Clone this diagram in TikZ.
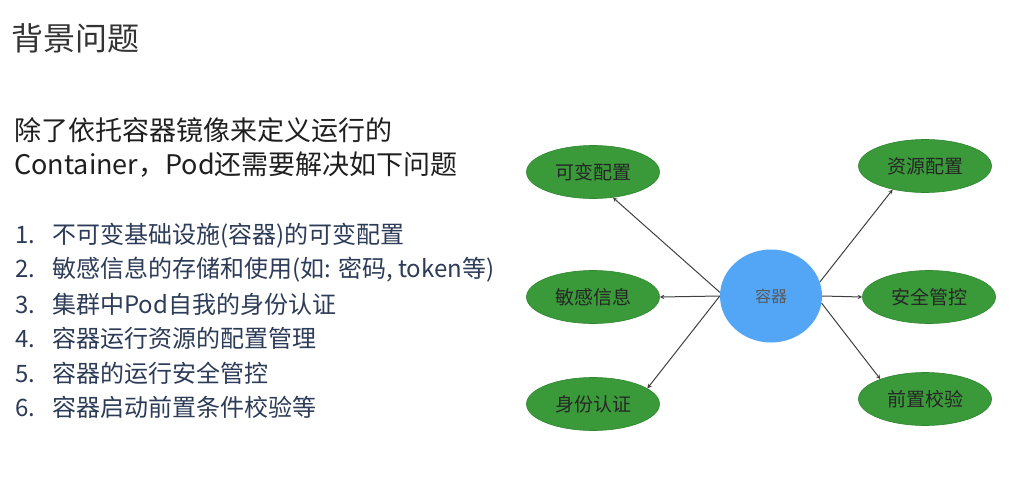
\documentclass[tikz,border=0pt]{standalone}
\usepackage{fontspec}
\setmainfont{Noto Sans CJK SC}
\usepackage{xcolor}
\usetikzlibrary{shapes.geometric}
\definecolor{titlegray}{HTML}{333333}
\definecolor{listblue}{HTML}{2C3B57}
\definecolor{leafgreen}{HTML}{3A9A3A}
\definecolor{leafedge}{HTML}{2F852F}
\definecolor{coreblue}{HTML}{53A6F6}
\tikzset{ell/.style={ellipse,draw=leafedge,fill=leafgreen,line width=0.6pt,minimum width=133pt,minimum height=53pt,inner sep=0pt,font=\fontsize{19}{19}\selectfont,text=black!85}}
\tikzset{core/.style={ellipse,fill=coreblue,minimum width=102pt,minimum height=93pt,inner sep=0pt,font=\fontsize{16}{16}\selectfont,text=black!65}}
\tikzset{line/.style={anchor=west,inner sep=0pt}}
\newcommand{\num}[1]{\makebox[37pt][l]{#1}}

\begin{document}
\begin{tikzpicture}[x=1pt,y=-1pt,>=stealth]
        \useasboundingbox (0,0) rectangle (1009,479);
        \node[line,text=titlegray,font=\fontsize{32}{32}\selectfont] (title)at (11,38) {背景问题};
        \node[line,text=black!88,font=\fontsize{27}{27}\selectfont] (p1)at (14,130) {除了依托容器镜像来定义运行的};
        \node[line,text=black!88,font=\fontsize{27}{27}\selectfont] (p2)at (14,165) {Container，Pod还需要解决如下问题};
        \node[line,text=listblue,font=\fontsize{24}{24}\selectfont] (l1)at (15,236) {\num{1.}不可变基础设施(容器)的可变配置};
        \node[line,text=listblue,font=\fontsize{24}{24}\selectfont] (l2)at (15,270) {\num{2.}敏感信息的存储和使用(如: 密码, token等)};
        \node[line,text=listblue,font=\fontsize{24}{24}\selectfont] (l3)at (15,304) {\num{3.}集群中Pod自我的身份认证};
        \node[line,text=listblue,font=\fontsize{24}{24}\selectfont] (l4)at (15,338) {\num{4.}容器运行资源的配置管理};
        \node[line,text=listblue,font=\fontsize{24}{24}\selectfont] (l5)at (15,373) {\num{5.}容器的运行安全管控};
        \node[line,text=listblue,font=\fontsize{24}{24}\selectfont] (l6)at (15,407) {\num{6.}容器启动前置条件校验等};

        \node[core] (c)at (771,296) {容器};
        \node[ell] (kb)at (593,172) {可变配置};
        \node[ell] (mg)at (593,297) {敏感信息};
        \node[ell] (sf)at (593,404) {身份认证};
        \node[ell] (zy)at (925,166) {资源配置};
        \node[ell] (aq)at (929,297) {安全管控};
        \node[ell] (qz)at (925,399) {前置校验};

        \draw [->,black!75,line width=1pt] (c.176) to [] (kb.-52);
        \draw [->,black!75,line width=1pt] (c.west) to [] (mg.east);
        \draw [->,black!75,line width=1pt] (c.west) to [] (sf.16);
        \draw [->,black!75,line width=1pt] (c.16) to [] (zy.216);
        \draw [->,black!75,line width=1pt] (c.east) to [] (aq.west);
        \draw [->,black!75,line width=1pt] (c.-8) to [] (qz.156);
    \end{tikzpicture}
\end{document}
